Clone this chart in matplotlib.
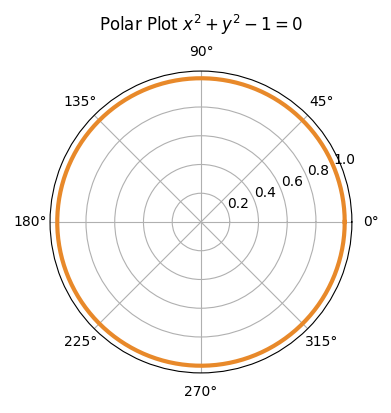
import numpy as np
import matplotlib.pyplot as plt

theta = np.linspace(0, 2 * np.pi, 400)
r = np.ones_like(theta)
rticks = [0.2, 0.4, 0.6, 0.8, 1.0]

fig = plt.figure(figsize=(3.91, 4.13), dpi=100)
ax = fig.add_axes([0.128, 0.097, 0.772, 0.731], projection="polar")
ax.plot(theta, r, color="#E8892A", linewidth=3)
ax.set_rticks(rticks)
ax.set_rmax(1.05)
ax.set_title("Polar Plot $x^2 + y^2 - 1 = 0$", pad=10)
fig.savefig("out.png")
